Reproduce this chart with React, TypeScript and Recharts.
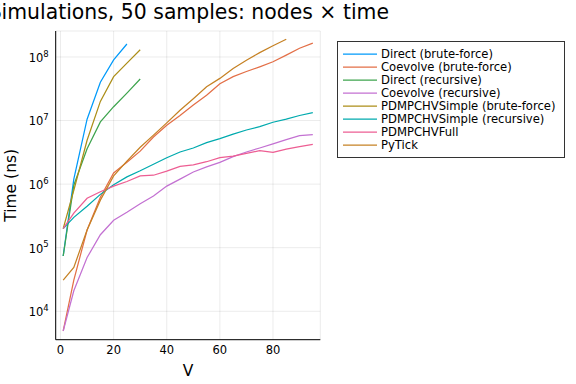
import React from 'react';
import { LineChart, Line, XAxis, YAxis, CartesianGrid } from 'recharts';

const FONT = '"DejaVu Sans", sans-serif';

// number of nodes V
const nodes = [1, 5, 10, 15, 20, 25, 30, 35, 40, 45, 50, 55, 60, 65, 70, 75, 80, 85, 90, 95];

// median run time (ns), one list per method
const directBF = [7.4e4, 1.2e6, 1.05e7, 4e7, 9e7, 1.6e8];
const coevolveBF = [4.9e3, 3.1e4, 1.9e5, 6.2e5, 1.5e6, 2.2e6, 3.3e6, 5.5e6, 8.4e6, 1.2e7, 1.75e7, 2.5e7, 3.8e7, 4.9e7, 5.9e7, 7e7, 8.4e7, 1.07e8, 1.37e8, 1.65e8];
const directRec = [7.4e4, 9.6e5, 3.6e6, 9.5e6, 1.65e7, 2.7e7, 4.5e7];
const coevolveRec = [4.9e3, 2.1e4, 7e4, 1.6e5, 2.7e5, 3.6e5, 4.9e5, 6.5e5, 9.3e5, 1.2e6, 1.55e6, 1.87e6, 2.2e6, 2.7e6, 3.2e6, 3.7e6, 4.3e6, 5e6, 5.8e6, 6e6];
const simpleBF = [2e5, 8e5, 4.9e6, 2e7, 4.9e7, 8e7, 1.3e8];
const simpleRec = [2e5, 3e5, 4.5e5, 6.9e5, 9.8e5, 1.3e6, 1.62e6, 2.05e6, 2.6e6, 3.2e6, 3.7e6, 4.5e6, 5.2e6, 6.1e6, 7.1e6, 8e6, 9.4e6, 1.05e7, 1.2e7, 1.33e7];
const chvFull = [2e5, 3.5e5, 6e5, 7.6e5, 9.3e5, 1.1e6, 1.35e6, 1.38e6, 1.6e6, 1.9e6, 2e6, 2.25e6, 2.6e6, 2.75e6, 3.05e6, 3.35e6, 3.15e6, 3.55e6, 3.9e6, 4.2e6];
const pyTick = [3.1e4, 4.9e4, 1.9e5, 5.6e5, 1.35e6, 2.3e6, 3.8e6, 5.9e6, 9.2e6, 1.45e7, 2.2e7, 3.4e7, 4.6e7, 6.6e7, 8.9e7, 1.17e8, 1.5e8, 1.9e8];

const xTicks = [0, 20, 40, 60, 80];
const yTicks = [1e4, 1e5, 1e6, 1e7, 1e8];

const series = [
  { key: 'directBF', name: 'Direct (brute-force)', color: '#009AFA', values: directBF },
  { key: 'coevolveBF', name: 'Coevolve (brute-force)', color: '#E36F47', values: coevolveBF },
  { key: 'directRec', name: 'Direct (recursive)', color: '#3EA44E', values: directRec },
  { key: 'coevolveRec', name: 'Coevolve (recursive)', color: '#C371D2', values: coevolveRec },
  { key: 'simpleBF', name: 'PDMPCHVSimple (brute-force)', color: '#AC8E18', values: simpleBF },
  { key: 'simpleRec', name: 'PDMPCHVSimple (recursive)', color: '#00AAAE', values: simpleRec },
  { key: 'chvFull', name: 'PDMPCHVFull', color: '#ED5E93', values: chvFull },
  { key: 'pyTick', name: 'PyTick', color: '#C68225', values: pyTick },
];

const data = nodes.map((v, i) => {
  const row: any = { v };
  series.forEach(s => {
    if (i < s.values.length) row[s.key] = s.values[i];
  });
  return row;
});

const PowTick = ({ x, y, payload }: any) => {
  const exp = Math.round(Math.log10(payload.value));
  return (
    <text x={x} y={y} textAnchor="end" fontSize={11.5} fill="#000" fontFamily={FONT}>
      <tspan dy="0.42em">10</tspan>
      <tspan dy="-0.6em" fontSize={8.5}>{exp}</tspan>
    </text>
  );
};

const NumTick = ({ x, y, payload }: any) => (
  <text x={x} y={y} dy="0.71em" textAnchor="middle" fontSize={11.5} fill="#000" fontFamily={FONT}>
    {payload.value}
  </text>
);

export default function App() {
  return (
    <div style={{ position: 'absolute', left: 0, top: 0, width: 576, height: 384, background: '#fff', overflow: 'hidden' }}>
      <LineChart
        width={576}
        height={384}
        data={data}
        margin={{ top: 31, right: 255.7, bottom: 14.3, left: 5.7 }}
      >
        <CartesianGrid stroke="#000" strokeOpacity={0.1} strokeWidth={0.8} />
        <XAxis
          dataKey="v"
          type="number"
          domain={[-1.82, 97.82]}
          ticks={xTicks}
          allowDataOverflow
          height={30}
          tickSize={0}
          tickMargin={6}
          tick={<NumTick />}
          axisLine={{ stroke: '#000', strokeWidth: 1 }}
          label={({ viewBox }: any) => (
            <text x={viewBox.x + viewBox.width / 2} y={376} textAnchor="middle" fontSize={15.5} fill="#000" fontFamily={FONT}>
              V
            </text>
          )}
        />
        <YAxis
          scale="log"
          domain={[3573, 2.56e8]}
          ticks={yTicks}
          allowDataOverflow
          width={50}
          tickSize={0}
          tickMargin={7}
          tick={<PowTick />}
          axisLine={{ stroke: '#000', strokeWidth: 1 }}
          label={({ viewBox }: any) => {
            const cy = viewBox.y + viewBox.height / 2;
            return (
              <text x={11} y={cy} transform={`rotate(-90 11 ${cy})`} textAnchor="middle" dy="0.35em" fontSize={15.5} fill="#000" fontFamily={FONT}>
                Time (ns)
              </text>
            );
          }}
        />
        {series.map(s => (
          <Line
            key={s.key}
            dataKey={s.key}
            name={s.name}
            stroke={s.color}
            strokeWidth={1.25}
            dot={false}
            activeDot={false}
            isAnimationActive={false}
          />
        ))}
      </LineChart>
      <svg width={576} height={384} style={{ position: 'absolute', left: 0, top: 0, pointerEvents: 'none' }}>
        <text x={389} y={19} textAnchor="end" fontSize={20.4} fill="#000" fontFamily={FONT}>
          Simulations, 50 samples: nodes × time
        </text>
        <rect x={337.5} y={41.5} width={227} height={116} fill="#fff" stroke="#333" strokeWidth={1} />
        {series.map((s, i) => {
          const cy = 54 + i * 13;
          return (
            <g key={s.key}>
              <line x1={343} x2={377} y1={cy} y2={cy} stroke={s.color} strokeWidth={1.25} />
              <text x={381} y={cy} dy="0.36em" fontSize={11.6} fill="#000" fontFamily={FONT}>
                {s.name}
              </text>
            </g>
          );
        })}
      </svg>
    </div>
  );
}
